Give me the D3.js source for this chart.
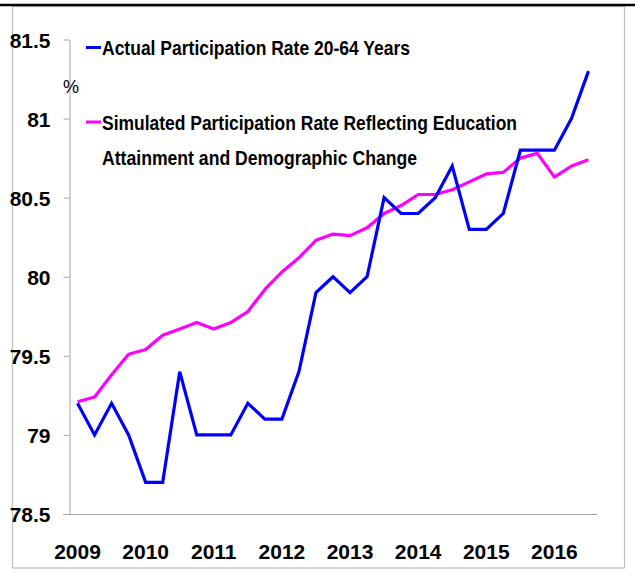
<!DOCTYPE html>
<html>
<head>
<meta charset="utf-8">
<script src="https://cdn.jsdelivr.net/npm/d3@7"></script>
<style>
  html, body { margin: 0; padding: 0; background: #fff; }
  svg { display: block; }
  text { font-family: "Liberation Sans Narrow", "Liberation Sans", Arial, sans-serif; font-weight: bold; fill: #000; }
</style>
</head>
<body>
<svg id="chart" width="635" height="578"></svg>
<script>
// ---- data ----
const quarters = [
  "2009Q1","2009Q2","2009Q3","2009Q4",
  "2010Q1","2010Q2","2010Q3","2010Q4",
  "2011Q1","2011Q2","2011Q3","2011Q4",
  "2012Q1","2012Q2","2012Q3","2012Q4",
  "2013Q1","2013Q2","2013Q3","2013Q4",
  "2014Q1","2014Q2","2014Q3","2014Q4",
  "2015Q1","2015Q2","2015Q3","2015Q4",
  "2016Q1","2016Q2","2016Q3"
];
const actualRate = [
  79.2, 79.0, 79.2, 79.0,
  78.7, 78.7, 79.4, 79.0,
  79.0, 79.0, 79.2, 79.1,
  79.1, 79.4, 79.9, 80.0,
  79.9, 80.0, 80.5, 80.4,
  80.4, 80.5, 80.7, 80.3,
  80.3, 80.4, 80.8, 80.8,
  80.8, 81.0, 81.3
];
const simulatedRate = [
  79.21, 79.24, 79.38, 79.51,
  79.54, 79.63, 79.67, 79.71,
  79.67, 79.71, 79.78, 79.92,
  80.03, 80.12, 80.23, 80.27,
  80.26, 80.31, 80.40, 80.45,
  80.52, 80.52, 80.55, 80.60,
  80.65, 80.66, 80.75, 80.78,
  80.63, 80.70, 80.74
];
const yTicks = [78.5, 79, 79.5, 80, 80.5, 81, 81.5];
const yearLabels = ["2009","2010","2011","2012","2013","2014","2015","2016"];
const seriesNames = [
  "Actual Participation Rate 20-64 Years",
  "Simulated Participation Rate Reflecting Education",
  "Attainment and Demographic Change"
];
const unitLabel = "%";

// ---- chart ----
const svg = d3.select("#chart");
const blue = "#0000ff", magenta = "#ff00ff";

// top rule and frame
svg.append("rect").attr("x", 12.5).attr("y", 6.5).attr("width", 612).attr("height", 561.5)
  .attr("fill", "none").attr("stroke", "#bdbdbd").attr("stroke-width", 1.2);
svg.append("line").attr("x1", 0).attr("x2", 635).attr("y1", 5).attr("y2", 5)
  .attr("stroke", "#000").attr("stroke-width", 2.5);

const x = d3.scaleBand().domain(quarters).range([69, 597]);
const y = d3.scaleLinear().domain([78.5, 81.5]).range([514, 39.5]);
const cx = q => x(q) + x.bandwidth() / 2;

// y axis
const yAxis = svg.append("g").attr("transform", "translate(69.5,0)")
  .call(d3.axisLeft(y).tickValues(yTicks).tickSize(6).tickSizeOuter(0).tickPadding(13)
    .tickFormat(d3.format("")));
yAxis.select(".domain").attr("stroke", "#a6a6a6");
yAxis.selectAll(".tick line").attr("stroke", "#a6a6a6");
yAxis.selectAll(".tick text").style("font-size", "21px").attr("dy", "0.36em")
  .style("font-family", "'Liberation Sans Narrow', sans-serif");

// x axis line (bottom)
svg.append("line").attr("x1", 63).attr("x2", 597).attr("y1", 514.5).attr("y2", 514.5)
  .attr("stroke", "#a6a6a6").attr("stroke-width", 1);

// year labels at Q1 of each year
svg.append("g").selectAll("text").data(yearLabels).join("text")
  .attr("x", d => cx(d + "Q1"))
  .attr("y", 559)
  .attr("text-anchor", "middle")
  .style("font-size", "21px")
  .text(d => d);

// lines
const line = d3.line().x((d, i) => cx(quarters[i])).y(d => y(d));
svg.append("path").datum(simulatedRate).attr("d", line)
  .attr("fill", "none").attr("stroke", magenta).attr("stroke-width", 3.2).attr("stroke-linejoin", "round");
svg.append("path").datum(actualRate).attr("d", line)
  .attr("fill", "none").attr("stroke", blue).attr("stroke-width", 3.2).attr("stroke-linejoin", "miter");

// unit label
svg.append("text").attr("x", 71).attr("y", 93).attr("text-anchor", "middle")
  .style("font-size", "18px").style("font-weight", "normal").text(unitLabel);

// legend
const legend = [
  { name: seriesNames[0], color: blue, y: 47.5, width: 308, mark: true },
  { name: seriesNames[1], color: magenta, y: 122, width: 415, mark: true },
  { name: seriesNames[2], color: null, y: 157, width: 315, mark: false }
];
const lg = svg.append("g");
legend.forEach(l => {
  if (l.mark) {
    lg.append("line").attr("x1", 86).attr("x2", 101).attr("y1", l.y).attr("y2", l.y)
      .attr("stroke", l.color).attr("stroke-width", 3);
  }
  lg.append("text").attr("x", 102).attr("y", l.y + 7.5)
    .style("font-size", "21px")
    .attr("textLength", l.width).attr("lengthAdjust", "spacingAndGlyphs")
    .text(l.name);
});
</script>
</body>
</html>
